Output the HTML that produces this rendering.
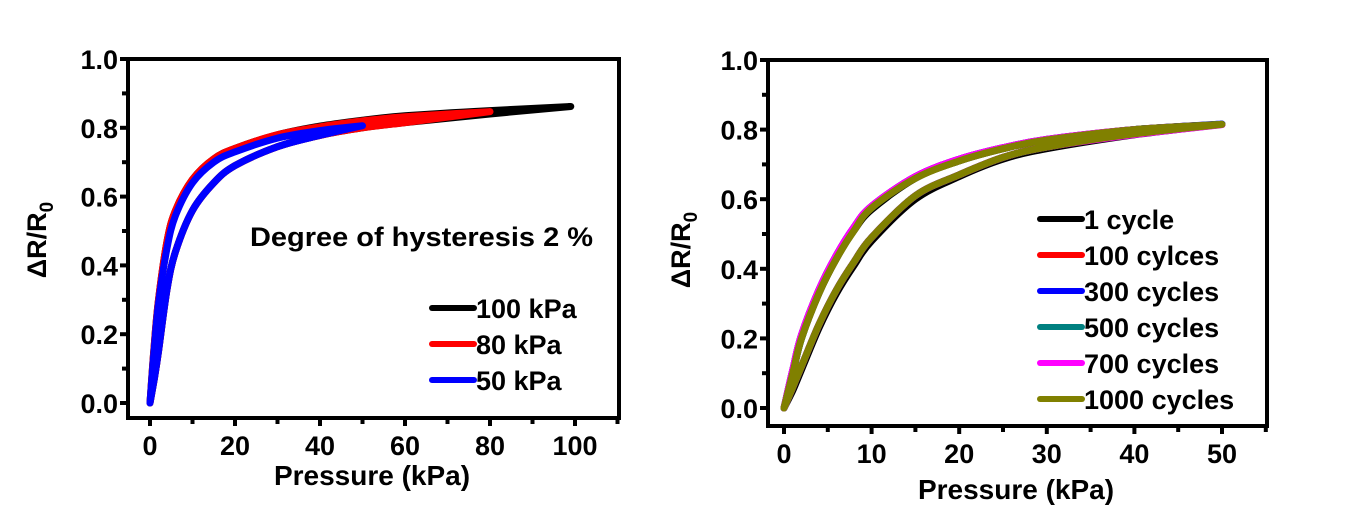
<!DOCTYPE html>
<html><head><meta charset="utf-8">
<style>
html,body{margin:0;padding:0;background:#fff;}
svg{display:block;font-family:"Liberation Sans",Arial,sans-serif;font-weight:bold;}
</style></head>
<body>
<svg id="fig" width="1367" height="511" viewBox="0 0 1367 511" xmlns="http://www.w3.org/2000/svg"></svg>
<script>
// ---------- Left chart data ----------
const leftSeriesNames = ["100 kPa", "80 kPa", "50 kPa"];
const leftColors = ["#000000", "#ff0000", "#0000ff"];
const leftX100 = [0, 1, 2, 4, 6, 10, 15, 20, 30, 40, 50, 60, 80, 99];
const leftUp100 = [0, 0.17, 0.30, 0.47, 0.56, 0.65, 0.71, 0.74, 0.78, 0.805, 0.822, 0.835, 0.85, 0.862];
const leftDn100 = [0, 0.07, 0.15, 0.33, 0.44, 0.56, 0.64, 0.69, 0.745, 0.778, 0.80, 0.815, 0.84, 0.862];
const leftX80 = [0, 1, 2, 4, 6, 10, 15, 20, 30, 40, 50, 60, 80];
const leftUp80 = [0, 0.17, 0.30, 0.47, 0.56, 0.65, 0.71, 0.74, 0.78, 0.803, 0.82, 0.832, 0.847];
const leftDn80 = [0, 0.07, 0.15, 0.33, 0.44, 0.56, 0.64, 0.69, 0.745, 0.778, 0.80, 0.815, 0.847];
const leftX50 = [0, 1, 2, 4, 6, 10, 15, 20, 30, 40, 50];
const leftUp50 = [0, 0.16, 0.29, 0.45, 0.545, 0.64, 0.70, 0.73, 0.77, 0.792, 0.806];
const leftDn50 = [0, 0.07, 0.15, 0.33, 0.44, 0.56, 0.64, 0.69, 0.745, 0.778, 0.806];
const leftXTicks = [0, 20, 40, 60, 80, 100];
const leftYTicks = [0.0, 0.2, 0.4, 0.6, 0.8, 1.0];

// ---------- Right chart data ----------
const rightSeriesNames = ["1 cycle", "100 cylces", "300 cycles", "500 cycles", "700 cycles", "1000 cycles"];
const rightColors = ["#000000", "#ff0000", "#0000ff", "#008080", "#ff00ff", "#808000"];
const rightX = [0, 1, 2, 4, 6, 8, 10, 15, 20, 25, 30, 40, 50];
const rightUp1 = [0, 0.10, 0.20, 0.33, 0.43, 0.51, 0.57, 0.66, 0.71, 0.745, 0.77, 0.80, 0.815];
const rightDn1 = [0, 0.05, 0.11, 0.23, 0.33, 0.41, 0.48, 0.60, 0.665, 0.715, 0.745, 0.785, 0.815];
const rightUp100 = [0, 0.11, 0.21, 0.34, 0.44, 0.52, 0.58, 0.665, 0.715, 0.748, 0.772, 0.80, 0.815];
const rightDn100 = [0, 0.06, 0.12, 0.24, 0.34, 0.42, 0.49, 0.61, 0.67, 0.72, 0.75, 0.788, 0.815];
const rightUp300 = [0, 0.11, 0.21, 0.34, 0.44, 0.52, 0.58, 0.665, 0.715, 0.748, 0.772, 0.80, 0.816];
const rightDn300 = [0, 0.06, 0.12, 0.24, 0.34, 0.42, 0.49, 0.61, 0.67, 0.72, 0.75, 0.788, 0.816];
const rightUp500 = [0, 0.10, 0.20, 0.335, 0.435, 0.515, 0.575, 0.662, 0.712, 0.746, 0.771, 0.80, 0.815];
const rightDn500 = [0, 0.06, 0.12, 0.24, 0.34, 0.42, 0.49, 0.61, 0.67, 0.72, 0.75, 0.788, 0.815];
const rightUp700 = [0, 0.11, 0.21, 0.34, 0.44, 0.52, 0.58, 0.665, 0.715, 0.748, 0.772, 0.80, 0.814];
const rightDn700 = [0, 0.06, 0.12, 0.24, 0.34, 0.42, 0.49, 0.61, 0.67, 0.72, 0.75, 0.786, 0.814];
const rightUp1000 = [0, 0.10, 0.20, 0.33, 0.43, 0.51, 0.575, 0.66, 0.71, 0.745, 0.77, 0.80, 0.815];
const rightDn1000 = [0, 0.06, 0.12, 0.24, 0.34, 0.42, 0.49, 0.61, 0.67, 0.72, 0.75, 0.788, 0.815];
const rightXTicks = [0, 10, 20, 30, 40, 50];
const rightYTicks = [0.0, 0.2, 0.4, 0.6, 0.8, 1.0];

const NS = "http://www.w3.org/2000/svg";
const svg = document.getElementById("fig");
function mk(tag, attrs, parent) {
  const e = document.createElementNS(NS, tag);
  for (const k in attrs) e.setAttribute(k, attrs[k]);
  (parent || svg).appendChild(e);
  return e;
}
function scale(d0, d1, r0, r1) { return v => r0 + (v - d0) * (r1 - r0) / (d1 - d0); }
function smooth(pts) {
  let d = "M" + pts[0][0].toFixed(1) + " " + pts[0][1].toFixed(1);
  for (let i = 0; i < pts.length - 1; i++) {
    const p0 = pts[Math.max(0, i - 1)], p1 = pts[i], p2 = pts[i + 1], p3 = pts[Math.min(pts.length - 1, i + 2)];
    const c1x = p1[0] + (p2[0] - p0[0]) / 6, c1y = p1[1] + (p2[1] - p0[1]) / 6;
    const c2x = p2[0] - (p3[0] - p1[0]) / 6, c2y = p2[1] - (p3[1] - p1[1]) / 6;
    d += "C" + c1x.toFixed(1) + " " + c1y.toFixed(1) + " " + c2x.toFixed(1) + " " + c2y.toFixed(1) + " " + p2[0].toFixed(1) + " " + p2[1].toFixed(1);
  }
  return d;
}

function drawChart(cfg) {
  const g = mk("g", {});
  
  
  const sx = scale(0, cfg.xMaxTick, cfg.x0, cfg.xMaxPx);
  const sy = scale(0, 1, cfg.y0, cfg.y1);
  const L = cfg.left, R = cfg.right, T = cfg.top, B = cfg.bottom;
  cfg.series.forEach((s, i) => {
    const pts = [];
    s.x.forEach((v, j) => pts.push([sx(v), sy(s.up[j])]));
    const pts2 = [];
    for (let j = s.x.length - 1; j >= 0; j--) pts2.push([sx(s.x[j]), sy(s.dn[j])]);
    const d = smooth(pts) + " " + smooth(pts2).replace(/^M/, "L");
    const p = mk("path", { d: d, fill: "none", stroke: s.color, "stroke-width": 7, "stroke-linejoin": "round", "stroke-linecap": "round" }, g);
    
    
  });
  const fr = mk("rect", { x: L, y: T, width: R - L, height: B - T, fill: "none", stroke: "#000", "stroke-width": 4 }, g);
  
  
  for (let v = 0; v <= cfg.xMinorMax + 1e-9; v += cfg.xMinor) {
    const X = sx(v);
    const major = cfg.xTicks.some(t => Math.abs(t - v) < 1e-6);
    mk("line", { x1: X, x2: X, y1: B, y2: B + (major ? 8 : 6), stroke: "#000", "stroke-width": 4 }, g);
  }
  cfg.xTicks.forEach(v => {
    const t = mk("text", { x: sx(v), y: B + 37, "text-anchor": "middle", "font-size": 27 }, g);
    t.textContent = String(v);
    
    
  });
  for (let k = 0; k <= 10; k++) {
    const v = k / 10, Y = sy(v);
    const major = k % 2 === 0;
    mk("line", { x1: L, x2: L - (major ? 8 : 6), y1: Y, y2: Y, stroke: "#000", "stroke-width": 4 }, g);
  }
  cfg.yTicks.forEach(v => {
    const t = mk("text", { x: L - 10, y: sy(v) + 10, "text-anchor": "end", "font-size": 27 }, g);
    t.textContent = v.toFixed(1);
    
    
  });
  const xt = mk("text", { x: cfg.xTitleX, y: cfg.xTitleY, "text-anchor": "middle", "font-size": 28 }, g);
  xt.textContent = "Pressure (kPa)";
  
  
  const yt = mk("text", { transform: "translate(" + cfg.yTitleX + "," + cfg.yTitleY + ") rotate(-90)", "text-anchor": "middle", "font-size": 27 }, g);
  
  
  yt.appendChild(document.createTextNode("\u0394R/R"));
  const sub = mk("tspan", { "font-size": 19, dy: 7 }, yt);
  sub.textContent = "0";
  cfg.series.forEach((s, i) => {
    const Y = cfg.legY + i * cfg.legStep;
    const lg = mk("g", {}, g);
    
    
    mk("line", { x1: cfg.legX, x2: cfg.legX + 42, y1: Y, y2: Y, stroke: s.color, "stroke-width": 6, "stroke-linecap": "round" }, lg);
    const t = mk("text", { x: cfg.legX + 44, y: Y + 10, "font-size": 27 }, lg);
    t.textContent = s.label;
  });
}

drawChart({
  name: "left-chart",
  x0: 150, xMaxTick: 100, xMaxPx: 575, y0: 403, y1: 59,
  left: 128, right: 619, top: 59, bottom: 418,
  xTicks: leftXTicks, xMinor: 10, xMinorMax: 110, yTicks: leftYTicks,
  xTitleX: 372, xTitleY: 485, yTitleX: 46, yTitleY: 240,
  legX: 432, legY: 308, legStep: 36,
  series: [
    { label: leftSeriesNames[0], color: leftColors[0], x: leftX100, up: leftUp100, dn: leftDn100 },
    { label: leftSeriesNames[1], color: leftColors[1], x: leftX80, up: leftUp80, dn: leftDn80 },
    { label: leftSeriesNames[2], color: leftColors[2], x: leftX50, up: leftUp50, dn: leftDn50 }
  ]
});
const note = mk("text", { x: 250, y: 246, "font-size": 27, textLength: 343, lengthAdjust: "spacingAndGlyphs" });
note.textContent = "Degree of hysteresis 2 %";



drawChart({
  name: "right-chart",
  x0: 784, xMaxTick: 50, xMaxPx: 1222, y0: 408, y1: 60,
  left: 768, right: 1267, top: 60, bottom: 426,
  xTicks: rightXTicks, xMinor: 5, xMinorMax: 55, yTicks: rightYTicks,
  xTitleX: 1016, xTitleY: 499, yTitleX: 690, yTitleY: 250,
  legX: 1040, legY: 219, legStep: 36,
  series: [
    { label: rightSeriesNames[0], color: rightColors[0], x: rightX, up: rightUp1, dn: rightDn1 },
    { label: rightSeriesNames[1], color: rightColors[1], x: rightX, up: rightUp100, dn: rightDn100 },
    { label: rightSeriesNames[2], color: rightColors[2], x: rightX, up: rightUp300, dn: rightDn300 },
    { label: rightSeriesNames[3], color: rightColors[3], x: rightX, up: rightUp500, dn: rightDn500 },
    { label: rightSeriesNames[4], color: rightColors[4], x: rightX, up: rightUp700, dn: rightDn700 },
    { label: rightSeriesNames[5], color: rightColors[5], x: rightX, up: rightUp1000, dn: rightDn1000 }
  ]
});
</script>
</body></html>
